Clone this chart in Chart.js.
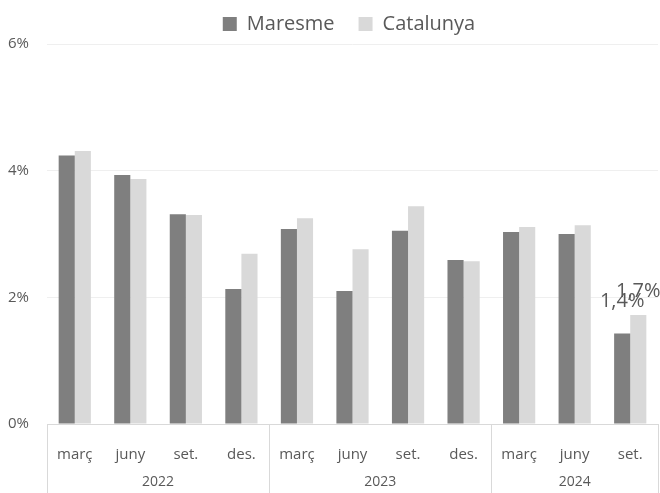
<!DOCTYPE html>
<html>
<head>
<meta charset="utf-8">
<script src="https://cdn.jsdelivr.net/npm/chart.js@4"></script>
<style>
  html, body { margin: 0; padding: 0; background: #fff; }
  #wrap { width: 660px; height: 493px; }
</style>
</head>
<body>
<div id="wrap"><canvas id="chart"></canvas></div>
<script>
// Months and years (year groups span 4, 4 and 3 quarters)
const months = ['març', 'juny', 'set.', 'des.', 'març', 'juny', 'set.', 'des.', 'març', 'juny', 'set.'];
const years = ['2022', '2023', '2024'];
const yearSpans = [4, 4, 3];

// Rates (%)
const maresme = [4.24, 3.93, 3.31, 2.13, 3.08, 2.10, 3.05, 2.59, 3.03, 3.00, 1.43];
const catalunya = [4.31, 3.87, 3.30, 2.69, 3.25, 2.76, 3.44, 2.57, 3.11, 3.14, 1.72];

// Only the last point carries a value label
const labelIndex = 10;

const TEXT = '#595959';
const FONT = "'Open Sans', 'Liberation Sans', sans-serif";

// Legend sits a bit right of the canvas centre in the original
const legendShift = {
    id: 'legendShift',
    afterLayout(chart) {
        if (chart.legend) {
            chart.legend.left += 20;
            chart.legend.right += 20;
        }
    }
};

// Year row and group separators under the month labels
const yearAxis = {
    id: 'yearAxis',
    afterDraw(chart) {
        const ctx = chart.ctx;
        const x = chart.scales.x;
        const area = chart.chartArea;
        const half = (x.getPixelForValue(1) - x.getPixelForValue(0)) / 2;
        ctx.save();
        ctx.strokeStyle = '#d9d9d9';
        ctx.lineWidth = 1;
        let start = 0;
        const edges = [x.getPixelForValue(0) - half];
        yearSpans.forEach((span, i) => {
            const left = x.getPixelForValue(start) - half;
            const right = x.getPixelForValue(start + span - 1) + half;
            edges.push(right);
            ctx.fillStyle = TEXT;
            ctx.font = '14px ' + FONT;
            ctx.textAlign = 'center';
            ctx.textBaseline = 'middle';
            ctx.fillText(years[i], (left + right) / 2, 482);
            start += span;
        });
        edges.forEach(e => {
            const px = Math.min(Math.round(e), chart.width - 2) + 0.5;
            ctx.beginPath();
            ctx.moveTo(px, area.bottom);
            ctx.lineTo(px, chart.height);
            ctx.stroke();
        });
        ctx.restore();
    }
};

// Value labels on the last quarter
const valueLabels = {
    id: 'valueLabels',
    afterDatasetsDraw(chart) {
        const ctx = chart.ctx;
        const offsets = [26, 18];
        ctx.save();
        ctx.fillStyle = TEXT;
        ctx.font = '20px ' + FONT;
        ctx.textAlign = 'center';
        ctx.textBaseline = 'alphabetic';
        chart.data.datasets.forEach((ds, di) => {
            const bar = chart.getDatasetMeta(di).data[labelIndex];
            const txt = ds.data[labelIndex].toFixed(1).replace('.', ',') + '%';
            ctx.fillText(txt, bar.x, bar.y - offsets[di]);
        });
        ctx.restore();
    }
};

new Chart(document.getElementById('chart'), {
    type: 'bar',
    data: {
        labels: months,
        datasets: [
            {
                label: 'Maresme',
                data: maresme,
                backgroundColor: '#7f7f7f',
                barPercentage: 1,
                categoryPercentage: 0.58
            },
            {
                label: 'Catalunya',
                data: catalunya,
                backgroundColor: '#d9d9d9',
                barPercentage: 1,
                categoryPercentage: 0.58
            }
        ]
    },
    options: {
        responsive: true,
        maintainAspectRatio: false,
        animation: false,
        layout: { padding: { top: -10, right: 2, left: 0, bottom: 0 } },
        plugins: {
            legend: {
                position: 'top',
                labels: {
                    color: TEXT,
                    font: { family: FONT, size: 20 },
                    boxWidth: 14,
                    boxHeight: 14,
                    padding: 24
                }
            },
            tooltip: { enabled: false }
        },
        scales: {
            x: {
                grid: { display: false },
                border: { color: '#d9d9d9' },
                ticks: {
                    color: TEXT,
                    font: { family: FONT, size: 15 },
                    padding: 14,
                    maxRotation: 0
                },
                afterFit(scale) { scale.height = 69; }
            },
            y: {
                min: 0,
                max: 6,
                grid: { color: '#efefef', drawTicks: false },
                border: { display: false },
                ticks: {
                    stepSize: 2,
                    color: TEXT,
                    font: { family: FONT, size: 15 },
                    padding: 18,
                    callback: v => v + '%'
                },
                afterFit(scale) { scale.width = 47; }
            }
        }
    },
    plugins: [legendShift, yearAxis, valueLabels]
});
</script>
</body>
</html>
